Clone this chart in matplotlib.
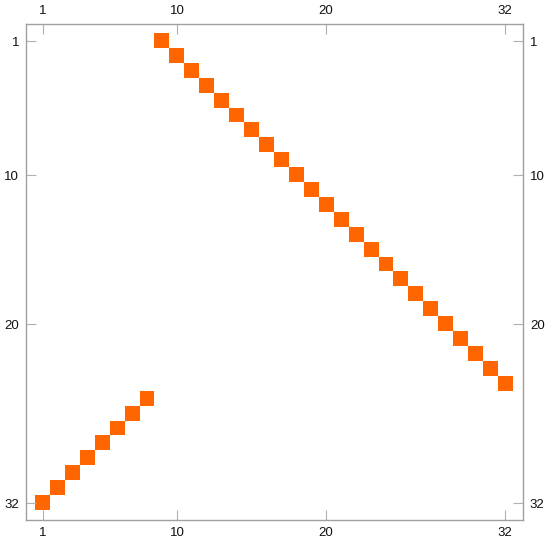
import numpy as np
import matplotlib
matplotlib.use("Agg")
import matplotlib.pyplot as plt
from matplotlib.colors import ListedColormap

# Column (1-based) of the nonzero entry in each row 1..32
nonzero_cols = [9, 10, 11, 12, 13, 14, 15, 16, 17, 18, 19, 20, 21, 22, 23, 24,
                25, 26, 27, 28, 29, 30, 31, 32, 8, 7, 6, 5, 4, 3, 2, 1]
n = 32
tick_positions = [1, 10, 20, 32]
tick_labels = ["1", "10", "20", "32"]

mat = np.zeros((n, n))
for r, c in enumerate(nonzero_cols):
    mat[r, c - 1] = 1

plt.rcParams['font.family'] = ['Liberation Sans', 'DejaVu Sans']
fig = plt.figure(figsize=(5.5, 5.5), dpi=100)
ax = fig.add_axes([26/550, 1-520/550, (523-26)/550, (520-24)/550])

cmap = ListedColormap(['white', '#FF6600'])
ax.imshow(mat, cmap=cmap, vmin=0, vmax=1, interpolation='nearest',
          extent=(0.5, n + 0.5, n + 0.5, 0.5), aspect='auto')
ax.set_xlim(-0.12, 33.21)
ax.set_ylim(33.14, -0.15)

for s in ax.spines.values():
    s.set_color('#a0a0a0')
    s.set_linewidth(1.0)

ax.set_xticks(tick_positions)
ax.set_xticklabels(tick_labels)
ax.set_yticks(tick_positions)
ax.set_yticklabels(tick_labels)
ax.tick_params(axis='both', which='both', direction='in', length=7, width=0.8,
               color='#b0b0b0', labelsize=9.5, labelcolor='#111111',
               top=True, right=True, labeltop=True, labelright=True, pad=5)

fig.savefig('out.png', dpi=100)
